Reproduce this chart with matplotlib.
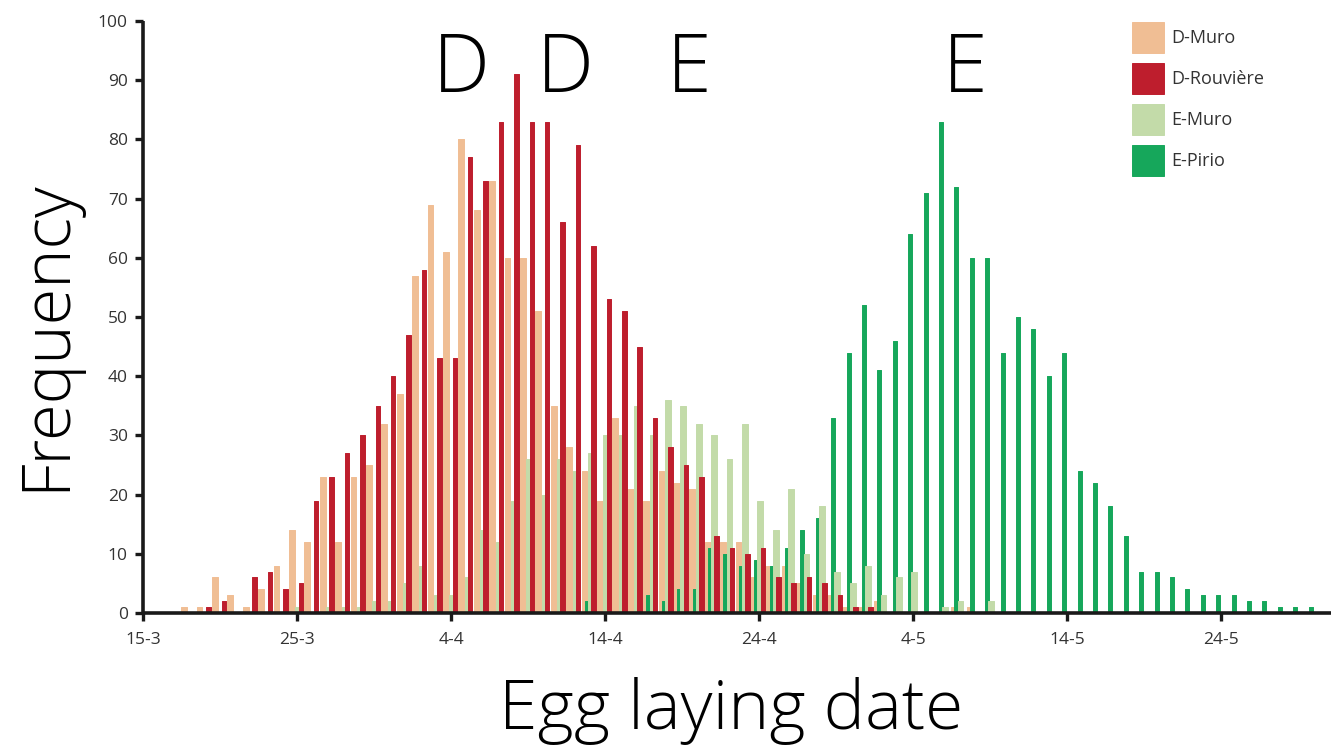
"""Egg laying date histogram for the D and E populations."""

from __future__ import annotations

import matplotlib

matplotlib.use("Agg")

import matplotlib.pyplot as plt
import numpy as np


# one entry per day, starting on 15 March (day 0) and running to 31 May
D_MURO = [
    0, 0, 0, 1, 1, 6, 3, 1, 4, 8,
    14, 12, 23, 12, 23, 25, 32, 37, 57, 69,
    61, 80, 68, 73, 60, 60, 51, 35, 28, 24,
    19, 33, 21, 19, 24, 22, 21, 12, 12, 12,
    6, 8, 8, 5, 3, 3, 1, 1, 2, 0,
    0, 0, 0, 1, 1, 0, 0, 0, 0, 0,
    0, 0, 0, 0, 0, 0, 0, 0, 0, 0,
    0, 0, 0, 0, 0, 0, 0, 0,
]
D_ROUVIERE = [
    0, 0, 0, 0, 1, 2, 0, 6, 7, 4,
    5, 19, 23, 27, 30, 35, 40, 47, 58, 43,
    43, 77, 73, 83, 91, 83, 83, 66, 79, 62,
    53, 51, 45, 33, 28, 25, 23, 13, 11, 10,
    11, 6, 5, 6, 5, 3, 1, 1, 0, 0,
    0, 0, 0, 0, 0, 0, 0, 0, 0, 0,
    0, 0, 0, 0, 0, 0, 0, 0, 0, 0,
    0, 0, 0, 0, 0, 0, 0, 0,
]
E_MURO = [
    0, 0, 0, 0, 0, 0, 0, 0, 0, 0,
    1, 0, 1, 1, 1, 2, 2, 5, 8, 3,
    3, 6, 14, 12, 19, 26, 20, 26, 24, 27,
    30, 30, 35, 30, 36, 35, 32, 30, 26, 32,
    19, 14, 21, 10, 18, 7, 5, 8, 3, 6,
    7, 0, 1, 2, 0, 2, 0, 0, 0, 0,
    0, 0, 0, 0, 0, 0, 0, 0, 0, 0,
    0, 0, 0, 0, 0, 0, 0, 0,
]
E_PIRIO = [
    0, 0, 0, 0, 0, 0, 0, 0, 0, 0,
    0, 0, 0, 0, 0, 0, 0, 0, 0, 0,
    0, 0, 0, 0, 0, 0, 0, 0, 0, 2,
    0, 0, 0, 3, 2, 4, 4, 11, 10, 8,
    9, 8, 11, 14, 16, 33, 44, 52, 41, 46,
    64, 71, 83, 72, 60, 60, 44, 50, 48, 40,
    44, 24, 22, 18, 13, 7, 7, 6, 4, 3,
    3, 3, 2, 2, 1, 1, 1, 0,
]

TICK_DAYS = [0, 10, 20, 30, 40, 50, 60, 70]
TICK_LABELS = ["15-3", "25-3", "4-4", "14-4", "24-4", "4-5", "14-5", "24-5"]

W, H = 1331, 747
TEXT_FAMILY = ["Open Sans", "DejaVu Sans"]

# (label, values, colour, offset within the day, bar width, zorder)
SERIES = [
    ("D-Muro", D_MURO, "#F0BE94", -0.33, 0.37, 1.0),
    ("D-Rouvière", D_ROUVIERE, "#BE1E2D", 0.25, 0.29, 1.3),
    ("E-Muro", E_MURO, "#C3DBA9", 0.08, 0.37, 1.2),
    ("E-Pirio", E_PIRIO, "#16A75B", -0.18, 0.26, 1.1),
]


def px(x: float, y: float) -> tuple[float, float]:
    return x / W, 1 - y / H


def draw_chart() -> plt.Figure:
    fig = plt.figure(figsize=(W / 100, H / 100), dpi=100)
    left, top = px(143, 21)
    right, bottom = px(1331, 613)
    ax = fig.add_axes([left, bottom, right - left, top - bottom])

    days = np.arange(len(D_MURO))
    for label, values, color, offset, width, z in SERIES:
        ax.bar(
            days + offset,
            values,
            width=width,
            color=color,
            edgecolor=color,
            linewidth=0.7,
            joinstyle="round",
            label=label,
            zorder=z,
        )

    ax.set_xlim(0, 77.14)
    ax.set_ylim(0, 100)
    ax.set_xticks(TICK_DAYS)
    ax.set_xticklabels(TICK_LABELS)
    ax.set_yticks(range(0, 101, 10))

    for side in ("top", "right"):
        ax.spines[side].set_visible(False)
    for side in ("left", "bottom"):
        ax.spines[side].set_linewidth(2.6)
        ax.spines[side].set_color("#1a1a1a")
        ax.spines[side].set_zorder(3)
        ax.spines[side].set_capstyle("butt")

    ax.tick_params(
        direction="out", length=6, width=2.4, color="#1a1a1a",
        labelsize=12.5, labelcolor="#333333",
    )
    ax.tick_params(axis="x", pad=8)
    ax.tick_params(axis="y", pad=5)
    for lbl in ax.get_xticklabels() + ax.get_yticklabels():
        lbl.set_family(TEXT_FAMILY)

    ax.legend(
        loc="upper left",
        bbox_to_anchor=px(1132, 22),
        bbox_transform=fig.transFigure,
        frameon=False,
        borderpad=0,
        borderaxespad=0,
        handlelength=1.75,
        handleheight=2.28,
        handletextpad=0.45,
        labelspacing=0.54,
        prop={"family": TEXT_FAMILY, "size": 13},
        labelcolor="#333333",
    )

    for letter, x in (("D", 461), ("D", 565), ("E", 689), ("E", 965)):
        fig.text(*px(x, 92), letter, ha="center", va="baseline",
                 fontsize=58, family=TEXT_FAMILY, fontweight="light")

    fig.text(*px(731, 729), "Egg laying date", ha="center", va="baseline",
             fontsize=50, family=TEXT_FAMILY, fontweight="light")
    fig.text(*px(47, 335), "Frequency", ha="center", va="center",
             rotation=90, fontsize=48, family=TEXT_FAMILY,
             fontweight="light")
    return fig


def main() -> None:
    fig = draw_chart()
    fig.savefig("out.png", dpi=100)
    plt.close(fig)


if __name__ == "__main__":
    main()
